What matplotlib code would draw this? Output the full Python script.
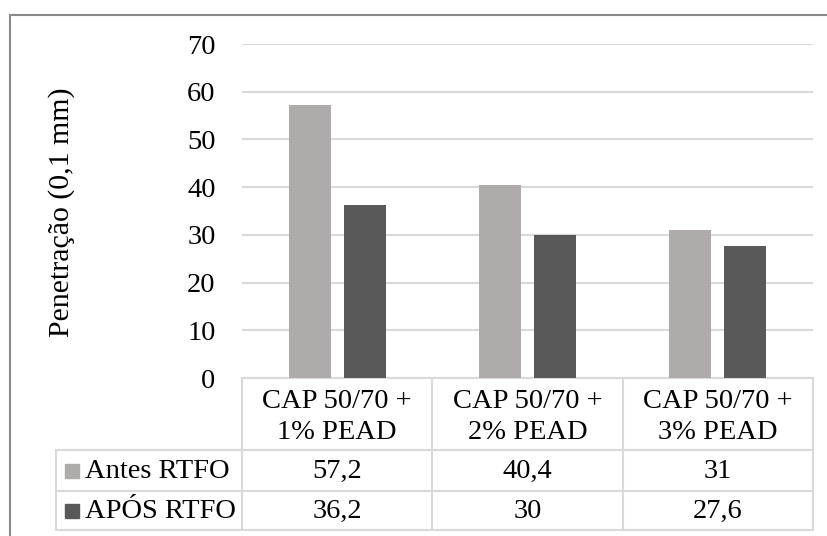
import matplotlib
matplotlib.use("Agg")
import matplotlib.pyplot as plt
from matplotlib.patches import Rectangle
from matplotlib.lines import Line2D

categories = ["CAP 50/70 +\n1% PEAD", "CAP 50/70 +\n2% PEAD", "CAP 50/70 +\n3% PEAD"]
series_names = ["Antes RTFO", "APÓS RTFO"]
antes = [57.2, 40.4, 31]
apos = [36.2, 30, 27.6]
antes_labels = ["57,2", "40,4", "31"]
apos_labels = ["36,2", "30", "27,6"]
yticks = [0, 10, 20, 30, 40, 50, 60, 70]
colors = ["#AFABAB", "#595959"]

plt.rcParams['font.family'] = ['Liberation Serif', 'DejaVu Serif']
FS = 20.5
W, H = 827, 536
fig = plt.figure(figsize=(W/100, H/100), dpi=100)

def fx(px):
    return px / W
def fy(py):
    return 1 - py / H

left, right, top, bottom = 242, 813, 44, 378
ax = fig.add_axes([fx(left), fy(bottom), fx(right) - fx(left), fy(top) - fy(bottom)])

x = list(range(len(categories)))
bw = 0.22
off = 0.145
ax.bar([i - off for i in x], antes, width=bw, color=colors[0], zorder=3)
ax.bar([i + off for i in x], apos, width=bw, color=colors[1], zorder=3)

ax.set_xlim(-0.5, len(categories) - 0.5)
ax.set_ylim(0, 70)
ax.set_yticks(yticks)
ax.set_yticklabels([str(v) for v in yticks], fontsize=FS)
ax.tick_params(axis='y', length=0, pad=19)
ax.tick_params(axis='x', length=0, labelbottom=False)
ax.yaxis.grid(True, color="#D9D9D9", linewidth=1.5, zorder=0)
for s in ["top", "right", "left"]:
    ax.spines[s].set_visible(False)
ax.spines["bottom"].set_color("#D9D9D9")
ax.spines["bottom"].set_linewidth(1.5)

# Data table drawn in figure coordinates
lc = "#D9D9D9"
lw = 1.5
h_top, h_bot, r1_bot, r2_bot = 378, 450, 491, 530
lab_left = 56
col_w = (right - left) / len(categories)

def hline(x0, x1, y):
    fig.add_artist(Line2D([fx(x0), fx(x1)], [fy(y), fy(y)], color=lc, linewidth=lw))
def vline(xp, y0, y1):
    fig.add_artist(Line2D([fx(xp), fx(xp)], [fy(y0), fy(y1)], color=lc, linewidth=lw))

for yy in [h_bot, r1_bot, r2_bot]:
    hline(lab_left, right, yy)
for i in range(len(categories) + 1):
    vline(left + i * col_w, h_top, r2_bot)
vline(lab_left, h_bot, r2_bot)

for i, cat in enumerate(categories):
    cx = left + (i + 0.5) * col_w
    fig.text(fx(cx), fy(417), cat, ha='center', va='center',
             fontsize=FS, linespacing=1.35)
    fig.text(fx(cx), fy((h_bot + r1_bot) / 2 + 1), antes_labels[i], ha='center', va='center', fontsize=FS)
    fig.text(fx(cx), fy((r1_bot + r2_bot) / 2 + 1), apos_labels[i], ha='center', va='center', fontsize=FS)

rows = [((h_bot + r1_bot) / 2, series_names[0], colors[0]),
        ((r1_bot + r2_bot) / 2, series_names[1], colors[1])]
for yc, name, c in rows:
    fig.add_artist(Rectangle((fx(65), fy(yc + 7)), fx(14), fy(0) - fy(14), color=c))
    fig.text(fx(85), fy(yc + 1), name, ha='left', va='center', fontsize=FS)

fig.text(fx(62), fy(212), "Penetração (0,1 mm)", rotation=90, ha='center', va='center', fontsize=21.5)

# outer border
fig.add_artist(Rectangle((fx(10), -0.05), 1.1, fy(15) + 0.05, fill=False,
                         edgecolor="#898989", linewidth=1.5))

fig.savefig("out.png", dpi=100)
